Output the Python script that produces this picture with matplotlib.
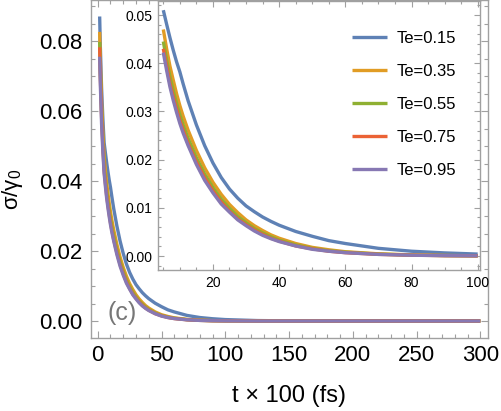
import numpy as np
import matplotlib
matplotlib.use("Agg")
import matplotlib.pyplot as plt
from matplotlib.ticker import MultipleLocator, FormatStrFormatter

plt.rcParams['font.family'] = ['Liberation Sans', 'DejaVu Sans']
plt.rcParams['mathtext.default'] = 'regular'

# Datos (t en unidades de 100 fs)
t = [1.5, 2, 3, 4, 5, 6, 7, 8, 9, 10, 11, 12.5, 15, 17.5, 20, 22.5, 25, 27.5,
     30, 32.5, 35, 37.5, 40, 45, 50, 55, 60, 70, 80, 90, 100, 125, 150, 200, 250, 300]

te_015 = [0.0871, 0.0790, 0.0667, 0.0580, 0.0510, 0.0481, 0.0453, 0.0427, 0.0403,
          0.0382, 0.0357, 0.0322, 0.0272, 0.0229, 0.0193, 0.0163, 0.0139, 0.0120,
          0.0104, 0.0092, 0.0081, 0.0072, 0.0064, 0.0051, 0.0041, 0.0032, 0.0026,
          0.0016, 0.0010, 0.00065, 0.00041, 0.00013, 0.00004, 0.0, 0.0, 0.0]
te_035 = [0.0827, 0.0747, 0.0625, 0.0537, 0.0470, 0.0430, 0.0394, 0.0365, 0.0337,
          0.0312, 0.0290, 0.0261, 0.0219, 0.0183, 0.0153, 0.0128, 0.0107, 0.0090,
          0.0075, 0.0063, 0.0053, 0.0044, 0.0037, 0.0026, 0.0018, 0.0013, 0.0009,
          0.00046, 0.00024, 0.00012, 0.00006, 0.00001, 0.0, 0.0, 0.0, 0.0]
te_055 = [0.0798, 0.0718, 0.0600, 0.0514, 0.0445, 0.0407, 0.0372, 0.0343, 0.0317,
          0.0293, 0.0272, 0.0244, 0.0204, 0.0170, 0.0142, 0.0118, 0.0099, 0.0082,
          0.0069, 0.0057, 0.0048, 0.0040, 0.0033, 0.0023, 0.0016, 0.0011, 0.0008,
          0.0004, 0.0002, 0.0001, 0.00005, 0.00001, 0.0, 0.0, 0.0, 0.0]
te_075 = [0.0783, 0.0702, 0.0585, 0.0500, 0.0430, 0.0394, 0.0358, 0.0331, 0.0305,
          0.0281, 0.0261, 0.0233, 0.0195, 0.0162, 0.0135, 0.0112, 0.0093, 0.0077,
          0.0065, 0.0054, 0.0045, 0.0037, 0.0031, 0.0021, 0.0015, 0.0010, 0.0007,
          0.00035, 0.00018, 0.00009, 0.00005, 0.00001, 0.0, 0.0, 0.0, 0.0]
te_095 = [0.0756, 0.0680, 0.0565, 0.0485, 0.0422, 0.0385, 0.0351, 0.0323, 0.0298,
          0.0275, 0.0255, 0.0229, 0.0190, 0.0157, 0.0131, 0.0108, 0.0091, 0.0075,
          0.0063, 0.0052, 0.0043, 0.0036, 0.0030, 0.0021, 0.0014, 0.0010, 0.0007,
          0.00034, 0.00017, 0.00009, 0.00004, 0.0, 0.0, 0.0, 0.0, 0.0]

series = [te_015, te_035, te_055, te_075, te_095]
etiquetas = ["Te=0.15", "Te=0.35", "Te=0.55", "Te=0.75", "Te=0.95"]
colores = ["#5E81B5", "#E19C24", "#8FB032", "#EB6235", "#8778B3"]

gris = "#a0a0a0"
lw = 2.4


def estilo_ejes(ax, labelsize, major_len, minor_len):
    for s in ax.spines.values():
        s.set_color(gris)
        s.set_linewidth(1.0)
    ax.tick_params(which='both', direction='in', color=gris, top=True, right=True,
                   labelsize=labelsize, labelcolor='black', width=0.8)
    ax.tick_params(which='major', length=major_len)
    ax.tick_params(which='minor', length=minor_len)


fig = plt.figure(figsize=(5.01, 4.11), dpi=100)

# Grafico principal
ax = fig.add_axes([0.1816, 0.1776, 0.7924, 0.8214])
for y, c in zip(series, colores):
    ax.plot(t, y, color=c, lw=lw, solid_capstyle='butt')
ax.set_xlim(-5.3, 306)
ax.set_ylim(-0.00486, 0.0917)
ax.xaxis.set_major_locator(MultipleLocator(50))
ax.xaxis.set_minor_locator(MultipleLocator(10))
ax.yaxis.set_major_locator(MultipleLocator(0.02))
ax.yaxis.set_minor_locator(MultipleLocator(0.005))
ax.yaxis.set_major_formatter(FormatStrFormatter('%.2f'))
estilo_ejes(ax, 16, 5, 3)
ax.tick_params(axis='x', pad=5)
ax.tick_params(axis='y', pad=6)
ax.set_xlabel("t × 100 (fs)", fontsize=17)
ax.xaxis.set_label_coords(0.5, -0.14)
ax.set_ylabel(r"$\sigma/\gamma_0$", fontsize=16)
ax.yaxis.set_label_coords(-0.165, 0.44)
ax.text(19, 0.0023, "(c)", fontsize=18, color="#777777", ha='center', va='center')

# Grafico insertado
t_arr = np.array(t)
mask = (t_arr >= 5) & (t_arr <= 100)
ax_in = fig.add_axes([0.3154, 0.343, 0.6427, 0.6545])
ax_in.set_facecolor('white')
for y, c, lab in zip(series, colores, etiquetas):
    ax_in.plot(t_arr[mask], np.array(y)[mask], color=c, lw=lw, label=lab,
               solid_capstyle='butt')
ax_in.set_xlim(3.4, 100.7)
ax_in.set_ylim(-0.0029, 0.0529)
ax_in.xaxis.set_major_locator(MultipleLocator(20))
ax_in.xaxis.set_minor_locator(MultipleLocator(5))
ax_in.yaxis.set_major_locator(MultipleLocator(0.01))
ax_in.yaxis.set_minor_locator(MultipleLocator(0.002))
ax_in.yaxis.set_major_formatter(FormatStrFormatter('%.2f'))
estilo_ejes(ax_in, 10, 4, 2.5)
ax_in.tick_params(axis='both', pad=4)

ax_in.legend(loc='upper left', bbox_to_anchor=(0.7026, 0.924),
             bbox_transform=fig.transFigure, frameon=False, fontsize=12,
             handlelength=2.1, handletextpad=0.55, labelspacing=1.08,
             borderpad=0, borderaxespad=0)

plt.savefig("out.png", dpi=100)
